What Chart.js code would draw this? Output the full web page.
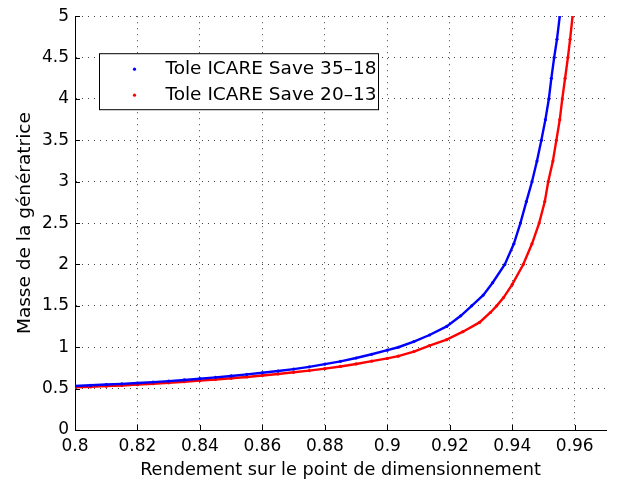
<!DOCTYPE html>
<html>
<head>
<meta charset="utf-8">
<script src="https://cdn.jsdelivr.net/npm/chart.js@4/dist/chart.umd.min.js"></script>
<style>
    html, body { margin: 0; padding: 0; background: #fff; }
    #wrap { width: 617px; height: 481px; }
</style>
</head>
<body>
<div id="wrap"><canvas id="chart"></canvas></div>
<script>
// values
const seriesLabels = ['Tole ICARE Save 35\u201318', 'Tole ICARE Save 20\u201313'];
const seriesColors = ['#0000ff', '#ff0000'];

const blueX = [0.800, 0.805, 0.810, 0.815, 0.820, 0.825, 0.830, 0.835, 0.840, 0.845,
    0.850, 0.855, 0.860, 0.865, 0.870, 0.875, 0.880, 0.885, 0.890, 0.895,
    0.900, 0.9035, 0.9085, 0.9135, 0.919, 0.9235, 0.927, 0.9307, 0.9337, 0.9376,
    0.9405, 0.9426, 0.9445, 0.9463, 0.9479, 0.9493, 0.9506, 0.9517, 0.9525, 0.9534,
    0.9543, 0.9552];
const blueY = [0.532, 0.540, 0.550, 0.557, 0.568, 0.579, 0.590, 0.605, 0.620, 0.636,
    0.653, 0.672, 0.692, 0.713, 0.736, 0.763, 0.796, 0.830, 0.870, 0.915,
    0.965, 1.000, 1.068, 1.148, 1.252, 1.380, 1.500, 1.630, 1.780, 2.000,
    2.250, 2.500, 2.760, 3.000, 3.250, 3.500, 3.750, 4.000, 4.250, 4.500,
    4.720, 5.000];

const redX = [0.800, 0.805, 0.810, 0.815, 0.820, 0.825, 0.830, 0.835, 0.840, 0.845,
    0.850, 0.855, 0.860, 0.865, 0.870, 0.875, 0.880, 0.885, 0.890, 0.895,
    0.900, 0.9035, 0.9085, 0.9135, 0.919, 0.9242, 0.9295, 0.933, 0.935, 0.9372,
    0.940, 0.9435, 0.9463, 0.9486, 0.9504, 0.9515, 0.9530, 0.9541, 0.9552, 0.9560,
    0.9569, 0.9578, 0.9585, 0.9593];
const redY = [0.516, 0.521, 0.530, 0.538, 0.548, 0.559, 0.570, 0.583, 0.596, 0.610,
    0.625, 0.641, 0.659, 0.677, 0.697, 0.718, 0.741, 0.768, 0.798, 0.832,
    0.865, 0.892, 0.948, 1.020, 1.092, 1.188, 1.300, 1.420, 1.500, 1.600,
    1.760, 2.000, 2.250, 2.500, 2.760, 3.000, 3.250, 3.500, 3.750, 4.000,
    4.250, 4.500, 4.720, 5.000];

const xTitle = 'Rendement sur le point de dimensionnement';
const yTitle = 'Masse de la g\u00e9n\u00e9ratrice';

const FONT = 'DejaVu Sans';
const fmt = v => String(+v.toFixed(2));
const toPoints = (xs, ys) => xs.map((x, i) => ({ x: x, y: ys[i] }));

// MATLAB style ticks pointing into the axes
const innerTicks = {
    id: 'innerTicks',
    afterDraw(chart) {
        const { ctx, chartArea } = chart;
        const xs = chart.scales.x, ys = chart.scales.y;
        ctx.save();
        ctx.strokeStyle = '#000';
        ctx.lineWidth = 1;
        ctx.beginPath();
        xs.ticks.forEach(t => {
            const px = Math.round(xs.getPixelForValue(t.value)) + 0.5;
            ctx.moveTo(px, chartArea.bottom);
            ctx.lineTo(px, chartArea.bottom - 5);
        });
        ys.ticks.forEach(t => {
            const py = Math.round(ys.getPixelForValue(t.value)) + 0.5;
            ctx.moveTo(chartArea.left, py);
            ctx.lineTo(chartArea.left + 5, py);
        });
        ctx.stroke();
        ctx.restore();
    }
};

// boxed legend inside the axes, upper left
const boxLegend = {
    id: 'boxLegend',
    afterDraw(chart) {
        const { ctx, chartArea } = chart;
        const bx = chartArea.left + 24.5, by = chartArea.top + 37.5;
        const bw = 279, bh = 56;
        ctx.save();
        ctx.fillStyle = '#fff';
        ctx.fillRect(bx, by, bw, bh);
        ctx.strokeStyle = '#000';
        ctx.lineWidth = 1;
        ctx.strokeRect(bx, by, bw, bh);
        ctx.font = '18.5px "' + FONT + '"';
        ctx.textBaseline = 'middle';
        chart.data.datasets.forEach((ds, i) => {
            const cy = by + 15.5 + i * 26;
            ctx.fillStyle = ds.pointBackgroundColor;
            ctx.beginPath();
            ctx.arc(bx + 35, cy, 1.6, 0, Math.PI * 2);
            ctx.fill();
            ctx.fillStyle = '#000';
            ctx.fillText(ds.label, bx + 66, cy);
        });
        ctx.restore();
    }
};

const datasets = [
    { label: seriesLabels[0], data: toPoints(blueX, blueY) },
    { label: seriesLabels[1], data: toPoints(redX, redY) }
].map((d, i) => Object.assign(d, {
    showLine: true,
    borderColor: seriesColors[i],
    borderWidth: 2.4,
    pointRadius: 1.6,
    pointBorderWidth: 0,
    pointBackgroundColor: seriesColors[i],
    tension: 0
}));

new Chart(document.getElementById('chart'), {
    type: 'scatter',
    data: { datasets },
    plugins: [innerTicks, boxLegend],
    options: {
        responsive: true, maintainAspectRatio: false, animation: false,
        layout: { padding: { left: 0, right: 11, top: 10, bottom: 0 } },
        plugins: { legend: { display: false }, tooltip: { enabled: false } },
        scales: {
            x: {
                type: 'linear', min: 0.8, max: 0.97,
                afterFit: s => { s.height = 51; },
                ticks: {
                    stepSize: 0.02, includeBounds: false, padding: 6,
                    color: '#000', font: { family: FONT, size: 17 },
                    maxRotation: 0, callback: v => fmt(v)
                },
                grid: { color: '#444', lineWidth: 1, drawTicks: false },
                border: { display: true, color: '#000', width: 1, dash: [1, 5] },
                title: {
                    display: true, text: xTitle, color: '#000',
                    font: { family: FONT, size: 17.7 }, padding: { top: 0, bottom: 0 }
                }
            },
            y: {
                type: 'linear', min: 0, max: 5,
                afterFit: s => { s.width = 75; },
                ticks: {
                    stepSize: 0.5, padding: 6,
                    color: '#000', font: { family: FONT, size: 17 },
                    callback: v => fmt(v)
                },
                grid: { color: '#444', lineWidth: 1, drawTicks: false },
                border: { display: true, color: '#000', width: 1, dash: [1, 5] },
                title: {
                    display: true, text: yTitle, color: '#000',
                    font: { family: FONT, size: 18.5 }, padding: { top: 14, bottom: 0 }
                }
            }
        }
    }
});
</script>
</body>
</html>
